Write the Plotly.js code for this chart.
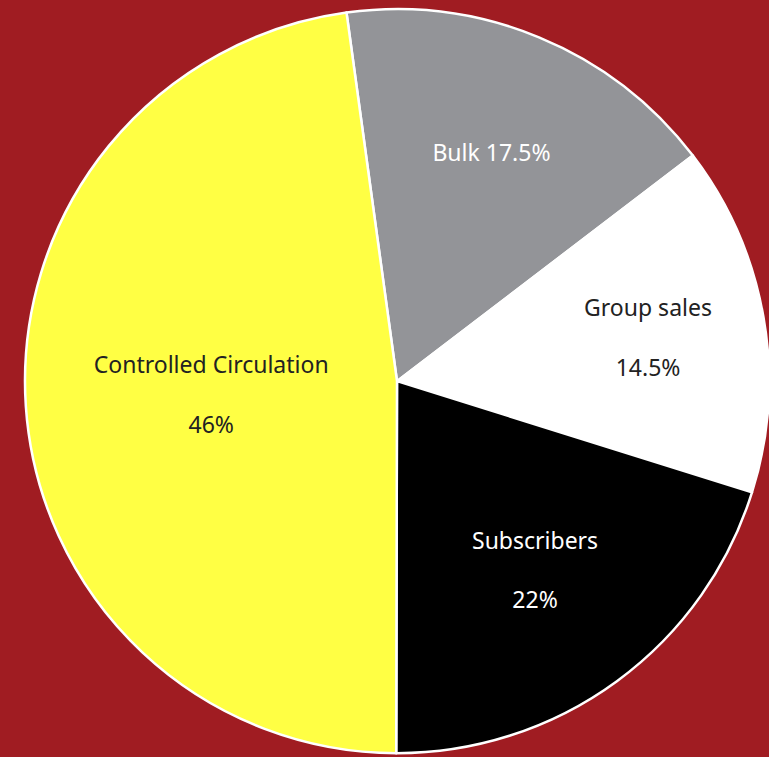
<!DOCTYPE html>
<html><head><meta charset="utf-8">
<script src="https://cdn.plot.ly/plotly-3.0.1.min.js"></script>
<style>html,body{margin:0;padding:0;background:#A01C22;}</style>
</head><body>
<div id="chart" style="width:769px;height:757px;"></div>
<script>
const categories = ["Bulk", "Group sales", "Subscribers", "Controlled Circulation"];
// slice sizes as drawn in the picture (angles measured), labels as printed
const values = [16.8, 15.2, 20.2, 47.8];
const labelText = ["Bulk 17.5%", "Group sales<br><br>14.5%", "Subscribers<br><br>22%", "Controlled Circulation<br><br>46%"];
const colors = ["#939498", "#FFFFFF", "#000000", "#FFFF44"];
const textColors = ["#FFFFFF", "#222222", "#FFFFFF", "#222222"];

Plotly.newPlot("chart", [{
  type: "pie",
  labels: categories,
  values: values,
  text: labelText,
  textinfo: "text",
  textposition: "inside",
  insidetextorientation: "horizontal",
  hoverinfo: "label+text",
  sort: false,
  direction: "clockwise",
  rotation: -7.8,
  marker: {colors: colors, line: {color: "#FFFFFF", width: 2.5}},
  insidetextfont: {family: "Noto Sans, sans-serif", size: 23, color: textColors},
  domain: {x: [0.0325, 1], y: [0.005, 0.988]}
}], {
  width: 769, height: 757,
  margin: {l: 0, r: 0, t: 0, b: 0},
  paper_bgcolor: "#A01C22",
  showlegend: false
}, {displayModeBar: false, staticPlot: true});
</script>
</body></html>
